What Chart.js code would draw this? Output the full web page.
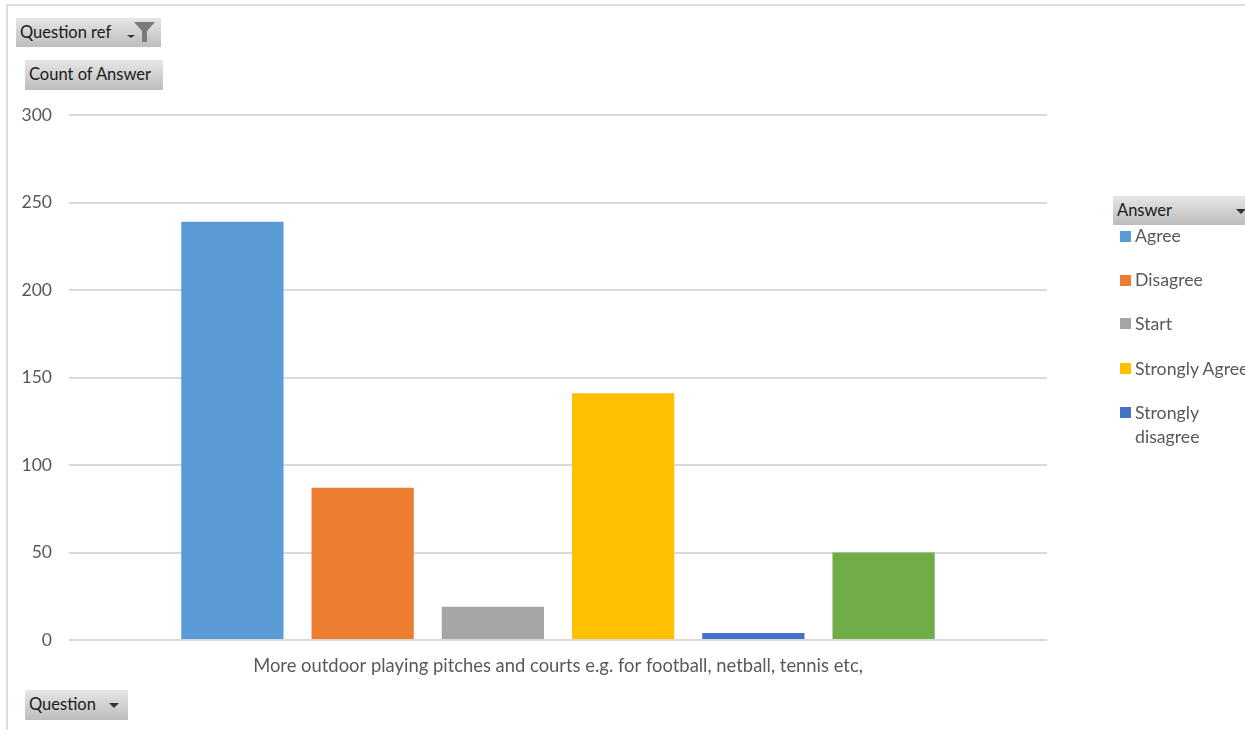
<!DOCTYPE html>
<html>
<head>
<meta charset="utf-8">
<script src="https://cdn.jsdelivr.net/npm/chart.js@4"></script>
<style>
html,body{margin:0;padding:0;background:#fff;overflow:hidden}
#wrap{position:relative;width:1245px;height:730px;overflow:hidden;font-family:Lato,sans-serif}
canvas{position:absolute;left:0;top:0}
.frame-t{position:absolute;left:6px;top:4px;width:1239px;height:2px;background:#dedede}
.frame-l{position:absolute;left:6px;top:4px;width:2px;height:726px;background:#dedede}
.btn{position:absolute;box-sizing:border-box;background:linear-gradient(#e6e6e6,#bdbdbd);color:#1a1a1a;font-size:16.5px;line-height:29px;padding-left:4px;white-space:nowrap}
.arrow{position:absolute;width:0;height:0;border-left:5px solid transparent;border-right:5px solid transparent;border-top:5px solid #333}
.leg{position:absolute;left:1135px;color:#595959;font-size:17.7px;line-height:24px;white-space:nowrap}
.sw{position:absolute;left:1120px;width:11px;height:11px}
</style>
</head>
<body>
<div id="wrap">
<canvas id="c" width="1245" height="730"></canvas>
<div class="frame-t"></div><div class="frame-l"></div>
<div class="btn" style="left:16px;top:18px;width:145px;height:29px">Question ref
  <span class="arrow" style="left:111px;top:17px;border-left-width:4px;border-right-width:4px;border-top-width:3px"></span>
  <svg style="position:absolute;left:118px;top:4px" width="22" height="20"><path d="M0 0H21L13 9V20H8V9Z" fill="#7a7a7a"/></svg>
</div>
<div class="btn" style="left:25px;top:60px;width:138px;height:30px">Count of Answer</div>
<div class="btn" style="left:25px;top:690px;width:103px;height:30px">Question
  <span class="arrow" style="left:84px;top:13px"></span>
</div>
<div class="btn" style="left:1113px;top:196px;width:132px;height:29px">Answer
  <span class="arrow" style="left:123px;top:13px"></span>
</div>
<div id="legend"></div>
</div>
<script>
const categories = ["More outdoor playing pitches and courts e.g. for football, netball, tennis etc,"];
const seriesNames = ["Agree", "Disagree", "Start", "Strongly Agree", "Strongly disagree", ""];
const seriesValues = [239, 87, 19, 141, 4, 50];
const seriesColors = ["#5b9bd5", "#ed7d31", "#a5a5a5", "#ffc000", "#4472c4", "#70ad47"];
const yTicks = [0, 50, 100, 150, 200, 250, 300];

const legendRows = [
  {i:0, top:224, sw:231},
  {i:1, top:268, sw:275},
  {i:2, top:312, sw:318},
  {i:3, top:357, sw:363},
  {i:4, top:401, sw:407}
];
const legendEl = document.getElementById('legend');
legendRows.forEach(r => {
  const sw = document.createElement('div');
  sw.className = 'sw';
  sw.style.top = r.sw + 'px';
  sw.style.background = seriesColors[r.i];
  legendEl.appendChild(sw);
  const t = document.createElement('div');
  t.className = 'leg';
  t.style.top = r.top + 'px';
  t.innerHTML = seriesNames[r.i] === 'Strongly disagree' ? 'Strongly<br>disagree' : seriesNames[r.i];
  legendEl.appendChild(t);
});

new Chart(document.getElementById('c'), {
  type: 'bar',
  data: {
    labels: categories,
    datasets: seriesValues.map((v, i) => ({
      label: seriesNames[i],
      data: [v],
      backgroundColor: seriesColors[i],
      borderWidth: 0,
      categoryPercentage: 0.799,
      barPercentage: 0.785
    }))
  },
  options: {
    responsive: false,
    animation: false,
    layout: {padding: {left: 0, right: 198, top: 115, bottom: 0}},
    plugins: {legend: {display: false}, tooltip: {enabled: false}, title: {display: false}},
    scales: {
      x: {
        grid: {display: false},
        border: {display: false},
        ticks: {color: '#595959', font: {family: 'Lato', size: 18.4}, padding: 7, maxRotation: 0, autoSkip: false},
        afterFit: s => { s.height = 90; }
      },
      y: {
        min: 0, max: 300,
        afterBuildTicks: s => { s.ticks = yTicks.map(v => ({value: v})); },
        grid: {color: '#d9d9d9', lineWidth: 2, drawTicks: false},
        border: {display: false},
        ticks: {color: '#595959', font: {family: 'Lato', size: 17.5}, padding: 17},
        afterFit: s => { s.width = 69; }
      }
    }
  }
});
</script>
</body>
</html>
